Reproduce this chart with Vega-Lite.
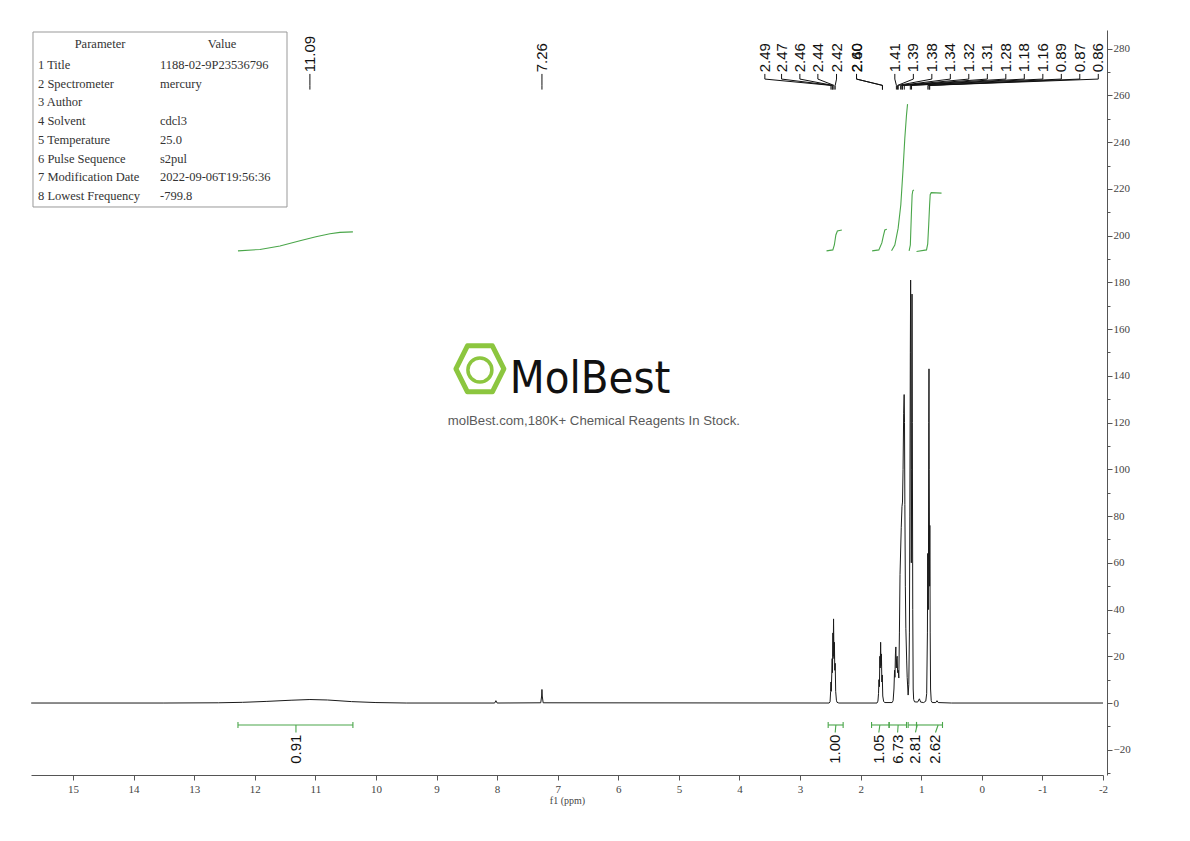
{
  "$schema": "https://vega.github.io/schema/vega-lite/v6.json",
  "width": 1072,
  "height": 745,
  "autosize": {"type": "none"},
  "padding": {"left": 31, "top": 30, "right": 87, "bottom": 66},
  "background": "white",
  "config": {"view": {"stroke": null}, "font": "Liberation Sans"},
  "datasets": {
    "spectrum": [
      {"ppm": 15.69, "i": 0}, {"ppm": 13.5, "i": 0}, {"ppm": 12.6, "i": 0.1}, {"ppm": 12.2, "i": 0.3},
      {"ppm": 11.8, "i": 0.7}, {"ppm": 11.4, "i": 1.2}, {"ppm": 11.09, "i": 1.5}, {"ppm": 10.8, "i": 1.3},
      {"ppm": 10.4, "i": 0.6}, {"ppm": 10.0, "i": 0.2}, {"ppm": 9.5, "i": 0}, {"ppm": 8.04, "i": 0},
      {"ppm": 8.02, "i": 1.0}, {"ppm": 8.0, "i": 0}, {"ppm": 7.28, "i": 0.1}, {"ppm": 7.265, "i": 3},
      {"ppm": 7.26, "i": 5.8}, {"ppm": 7.255, "i": 3}, {"ppm": 7.24, "i": 0.1},
      {"ppm": 2.52, "i": 0}, {"ppm": 2.505, "i": 0.5}, {"ppm": 2.495, "i": 5}, {"ppm": 2.49, "i": 9},
      {"ppm": 2.485, "i": 5}, {"ppm": 2.477, "i": 12}, {"ppm": 2.47, "i": 19}, {"ppm": 2.465, "i": 13},
      {"ppm": 2.458, "i": 30}, {"ppm": 2.453, "i": 20}, {"ppm": 2.447, "i": 36}, {"ppm": 2.44, "i": 19},
      {"ppm": 2.433, "i": 26}, {"ppm": 2.427, "i": 14}, {"ppm": 2.42, "i": 17}, {"ppm": 2.412, "i": 5},
      {"ppm": 2.4, "i": 1.2}, {"ppm": 2.39, "i": 0.3}, {"ppm": 2.36, "i": 0},
      {"ppm": 1.73, "i": 0}, {"ppm": 1.715, "i": 0.8}, {"ppm": 1.705, "i": 4}, {"ppm": 1.698, "i": 10},
      {"ppm": 1.69, "i": 7}, {"ppm": 1.683, "i": 20}, {"ppm": 1.677, "i": 15}, {"ppm": 1.67, "i": 26},
      {"ppm": 1.664, "i": 16}, {"ppm": 1.657, "i": 21}, {"ppm": 1.65, "i": 9}, {"ppm": 1.643, "i": 12},
      {"ppm": 1.635, "i": 3}, {"ppm": 1.62, "i": 0.6}, {"ppm": 1.6, "i": 0.2}, {"ppm": 1.48, "i": 0.2},
      {"ppm": 1.464, "i": 1}, {"ppm": 1.45, "i": 6}, {"ppm": 1.44, "i": 14}, {"ppm": 1.434, "i": 11},
      {"ppm": 1.426, "i": 21}, {"ppm": 1.419, "i": 24}, {"ppm": 1.412, "i": 15}, {"ppm": 1.405, "i": 19},
      {"ppm": 1.397, "i": 20}, {"ppm": 1.39, "i": 13}, {"ppm": 1.38, "i": 14}, {"ppm": 1.37, "i": 10.7},
      {"ppm": 1.36, "i": 30}, {"ppm": 1.35, "i": 55}, {"ppm": 1.33, "i": 75}, {"ppm": 1.318, "i": 84},
      {"ppm": 1.309, "i": 86}, {"ppm": 1.3, "i": 100}, {"ppm": 1.29, "i": 124}, {"ppm": 1.282, "i": 132},
      {"ppm": 1.276, "i": 120}, {"ppm": 1.27, "i": 85}, {"ppm": 1.262, "i": 50}, {"ppm": 1.254, "i": 32},
      {"ppm": 1.24, "i": 18}, {"ppm": 1.232, "i": 11}, {"ppm": 1.216, "i": 3.4}, {"ppm": 1.205, "i": 8},
      {"ppm": 1.195, "i": 30}, {"ppm": 1.188, "i": 80}, {"ppm": 1.18, "i": 150}, {"ppm": 1.175, "i": 181},
      {"ppm": 1.17, "i": 120}, {"ppm": 1.164, "i": 60}, {"ppm": 1.158, "i": 100}, {"ppm": 1.152, "i": 175},
      {"ppm": 1.147, "i": 120}, {"ppm": 1.14, "i": 40}, {"ppm": 1.133, "i": 6}, {"ppm": 1.125, "i": 1.5},
      {"ppm": 1.11, "i": 0.5}, {"ppm": 1.06, "i": 0.4}, {"ppm": 1.03, "i": 1.8}, {"ppm": 1.01, "i": 0.4},
      {"ppm": 0.96, "i": 0.2}, {"ppm": 0.925, "i": 0.8}, {"ppm": 0.91, "i": 4}, {"ppm": 0.898, "i": 30},
      {"ppm": 0.893, "i": 64}, {"ppm": 0.888, "i": 45}, {"ppm": 0.882, "i": 40}, {"ppm": 0.876, "i": 120},
      {"ppm": 0.872, "i": 143}, {"ppm": 0.868, "i": 100}, {"ppm": 0.862, "i": 50}, {"ppm": 0.858, "i": 76},
      {"ppm": 0.852, "i": 30}, {"ppm": 0.846, "i": 6}, {"ppm": 0.835, "i": 1}, {"ppm": 0.82, "i": 0.2},
      {"ppm": 0.76, "i": 0.2}, {"ppm": 0.74, "i": 1.0}, {"ppm": 0.72, "i": 0.2}, {"ppm": 0.5, "i": 0},
      {"ppm": -2, "i": 0}
    ],
    "integrals": [
      {"seg": "A", "ppm": 12.277, "v": 193.5}, {"seg": "A", "ppm": 11.914, "v": 194.1}, {"seg": "A", "ppm": 11.584, "v": 195.6},
      {"seg": "A", "ppm": 11.254, "v": 197.8}, {"seg": "A", "ppm": 10.99, "v": 199.5}, {"seg": "A", "ppm": 10.759, "v": 200.8},
      {"seg": "A", "ppm": 10.594, "v": 201.4}, {"seg": "A", "ppm": 10.38, "v": 201.6},
      {"seg": "B", "ppm": 2.563, "v": 193.5}, {"seg": "B", "ppm": 2.459, "v": 193.9}, {"seg": "B", "ppm": 2.434, "v": 196.0},
      {"seg": "B", "ppm": 2.409, "v": 200.3}, {"seg": "B", "ppm": 2.384, "v": 202.0}, {"seg": "B", "ppm": 2.31, "v": 202.4},
      {"seg": "C", "ppm": 1.81, "v": 193.5}, {"seg": "C", "ppm": 1.7, "v": 193.9}, {"seg": "C", "ppm": 1.65, "v": 196.9},
      {"seg": "C", "ppm": 1.625, "v": 199.9}, {"seg": "C", "ppm": 1.601, "v": 202.4}, {"seg": "C", "ppm": 1.568, "v": 202.7},
      {"seg": "D", "ppm": 1.49, "v": 193.5}, {"seg": "D", "ppm": 1.436, "v": 196.0}, {"seg": "D", "ppm": 1.381, "v": 203.2},
      {"seg": "D", "ppm": 1.337, "v": 213.2}, {"seg": "D", "ppm": 1.299, "v": 228.9}, {"seg": "D", "ppm": 1.271, "v": 241.7},
      {"seg": "D", "ppm": 1.243, "v": 251.7}, {"seg": "D", "ppm": 1.226, "v": 256.3},
      {"seg": "E", "ppm": 1.2, "v": 193.5}, {"seg": "E", "ppm": 1.18, "v": 196.0}, {"seg": "E", "ppm": 1.163, "v": 208.9},
      {"seg": "E", "ppm": 1.15, "v": 217.5}, {"seg": "E", "ppm": 1.139, "v": 219.2}, {"seg": "E", "ppm": 1.122, "v": 219.6},
      {"seg": "F", "ppm": 1.078, "v": 193.2}, {"seg": "F", "ppm": 0.913, "v": 193.9}, {"seg": "F", "ppm": 0.893, "v": 196.5},
      {"seg": "F", "ppm": 0.876, "v": 205.0}, {"seg": "F", "ppm": 0.862, "v": 213.0}, {"seg": "F", "ppm": 0.852, "v": 217.5},
      {"seg": "F", "ppm": 0.835, "v": 218.4}, {"seg": "F", "ppm": 0.665, "v": 218.2}
    ],
    "intlabels": [
      {"t": "0.91", "x1": 12.277, "x2": 10.38, "cx": 11.32, "lx": 11.32},
      {"t": "1.00", "x1": 2.536, "x2": 2.289, "cx": 2.409, "lx": 2.42},
      {"t": "1.05", "x1": 1.82, "x2": 1.53, "cx": 1.683, "lx": 1.7},
      {"t": "6.73", "x1": 1.53, "x2": 1.243, "cx": 1.381, "lx": 1.39},
      {"t": "2.81", "x1": 1.216, "x2": 1.078, "cx": 1.067, "lx": 1.095},
      {"t": "2.62", "x1": 1.078, "x2": 0.649, "cx": 0.721, "lx": 0.765}
    ],
    "peaks": [
      {"t": "11.09", "lx": 11.09, "px": 11.09},
      {"t": "7.26", "lx": 7.26, "px": 7.26},
      {"t": "2.49", "lx": 3.581, "px": 2.49},
      {"t": "2.47", "lx": 3.305, "px": 2.47},
      {"t": "2.46", "lx": 3.003, "px": 2.46},
      {"t": "2.44", "lx": 2.706, "px": 2.44},
      {"t": "2.42", "lx": 2.398, "px": 2.42},
      {"t": "2.40", "lx": 2.068, "px": 1.64},
      {"t": "2.60", "lx": 2.068, "px": 1.64},
      {"t": "1.41", "lx": 1.436, "px": 1.41},
      {"t": "1.39", "lx": 1.13, "px": 1.39},
      {"t": "1.38", "lx": 0.825, "px": 1.38},
      {"t": "1.34", "lx": 0.52, "px": 1.34},
      {"t": "1.32", "lx": 0.215, "px": 1.32},
      {"t": "1.31", "lx": -0.091, "px": 1.31},
      {"t": "1.28", "lx": -0.396, "px": 1.28},
      {"t": "1.18", "lx": -0.701, "px": 1.18},
      {"t": "1.16", "lx": -1.007, "px": 1.16},
      {"t": "0.89", "lx": -1.312, "px": 0.89},
      {"t": "0.87", "lx": -1.617, "px": 0.87},
      {"t": "0.86", "lx": -1.922, "px": 0.86}
    ],
    "table": [
      {"r": 0, "c": 0, "t": "Parameter"}, {"r": 0, "c": 1, "t": "Value"},
      {"r": 1, "c": 0, "t": "1 Title"}, {"r": 1, "c": 1, "t": "1188-02-9P23536796"},
      {"r": 2, "c": 0, "t": "2 Spectrometer"}, {"r": 2, "c": 1, "t": "mercury"},
      {"r": 3, "c": 0, "t": "3 Author"},
      {"r": 4, "c": 0, "t": "4 Solvent"}, {"r": 4, "c": 1, "t": "cdcl3"},
      {"r": 5, "c": 0, "t": "5 Temperature"}, {"r": 5, "c": 1, "t": "25.0"},
      {"r": 6, "c": 0, "t": "6 Pulse Sequence"}, {"r": 6, "c": 1, "t": "s2pul"},
      {"r": 7, "c": 0, "t": "7 Modification Date"}, {"r": 7, "c": 1, "t": "2022-09-06T19:56:36"},
      {"r": 8, "c": 0, "t": "8 Lowest Frequency"}, {"r": 8, "c": 1, "t": "-799.8"}
    ]
  },
  "layer": [
    {
      "resolve": {"axis": {"y": "independent"}},
      "layer": [
        {
          "data": {"name": "spectrum"},
          "mark": {"type": "line", "color": "#1a1a1a", "strokeWidth": 1},
          "encoding": {
            "x": {
              "field": "ppm", "type": "quantitative",
              "scale": {"domain": [-2, 15.693], "reverse": true, "nice": false, "zero": false},
              "axis": {
                "orient": "bottom",
                "values": [-2, -1.5, -1, -0.5, 0, 0.5, 1, 1.5, 2, 2.5, 3, 3.5, 4, 4.5, 5, 5.5, 6, 6.5, 7, 7.5, 8, 8.5, 9, 9.5, 10, 10.5, 11, 11.5, 12, 12.5, 13, 13.5, 14, 14.5, 15, 15.5],
                "labelExpr": "datum.value % 1 === 0 ? toString(datum.value) : ''",
                "tickSize": {"condition": {"test": "datum.value % 1 !== 0", "value": 3}, "value": 5},
                "grid": false,
                "domainColor": "#555", "tickColor": "#555",
                "labelColor": "#444", "labelFont": "Liberation Serif", "labelFontSize": 11, "labelPadding": 3,
                "labelOverlap": false, "labelFlush": false,
                "title": "f1 (ppm)", "titleFont": "Liberation Serif", "titleFontSize": 10, "titleFontWeight": "normal",
                "titleColor": "#444", "titlePadding": 1
              }
            },
            "y": {
              "field": "i", "type": "quantitative",
              "scale": {"domain": [-30.8, 288], "nice": false, "zero": false},
              "axis": {
                "orient": "right", "offset": 4,
                "values": [-20, 0, 20, 40, 60, 80, 100, 120, 140, 160, 180, 200, 220, 240, 260, 280],
                "tickSize": 5,
                "grid": false,
                "domainColor": "#555", "tickColor": "#555",
                "labelColor": "#444", "labelFont": "Liberation Serif", "labelFontSize": 11, "labelPadding": 1,
                "labelOverlap": false, "labelFlush": false,
                "title": null
              }
            }
          }
        },
        {
          "data": {"name": "integrals"},
          "mark": {"type": "line", "color": "#4aa64a", "strokeWidth": 1.1},
          "encoding": {
            "x": {"field": "ppm", "type": "quantitative"},
            "y": {
              "field": "v", "type": "quantitative",
              "axis": {
                "orient": "right", "offset": 4,
                "values": [-30, -10, 10, 30, 50, 70, 90, 110, 130, 150, 170, 190, 210, 230, 250, 270],
                "tickSize": 3, "labels": false, "domain": false, "grid": false,
                "tickColor": "#555", "title": null
              }
            },
            "detail": {"field": "seg"}
          }
        },
        {
          "data": {"name": "intlabels"},
          "mark": {"type": "rule", "color": "#4aa64a", "strokeWidth": 1.1},
          "encoding": {
            "x": {"field": "x1", "type": "quantitative"},
            "x2": {"field": "x2"},
            "y": {"datum": -9.4, "type": "quantitative", "axis": null}
          }
        },
        {
          "data": {"name": "intlabels"},
          "mark": {"type": "rule", "color": "#4aa64a", "strokeWidth": 1.1},
          "encoding": {
            "x": {"field": "x1", "type": "quantitative"},
            "y": {"datum": -8.1, "type": "quantitative", "axis": null},
            "y2": {"datum": -10.7}
          }
        },
        {
          "data": {"name": "intlabels"},
          "mark": {"type": "rule", "color": "#4aa64a", "strokeWidth": 1.1},
          "encoding": {
            "x": {"field": "x2", "type": "quantitative"},
            "y": {"datum": -8.1, "type": "quantitative", "axis": null},
            "y2": {"datum": -10.7}
          }
        },
        {
          "data": {"name": "intlabels"},
          "mark": {"type": "rule", "color": "#4aa64a", "strokeWidth": 1.1},
          "encoding": {
            "x": {"field": "cx", "type": "quantitative"},
            "x2": {"field": "lx"},
            "y": {"datum": -9.4, "type": "quantitative", "axis": null},
            "y2": {"datum": -12.6}
          }
        },
        {
          "data": {"name": "intlabels"},
          "mark": {"type": "text", "angle": 270, "align": "right", "baseline": "middle", "fontSize": 15, "color": "#111", "font": "Liberation Sans"},
          "encoding": {
            "x": {"field": "lx", "type": "quantitative"},
            "y": {"datum": -13.5, "type": "quantitative", "axis": null},
            "text": {"field": "t"}
          }
        },
        {
          "data": {"name": "peaks"},
          "mark": {"type": "text", "angle": 270, "align": "left", "baseline": "middle", "fontSize": 15, "color": "#111", "font": "Liberation Sans"},
          "encoding": {
            "x": {"field": "lx", "type": "quantitative"},
            "y": {"datum": 269.9, "type": "quantitative", "axis": null},
            "text": {"field": "t"}
          }
        },
        {
          "data": {"name": "peaks"},
          "mark": {"type": "rule", "color": "#111", "strokeWidth": 1},
          "encoding": {
            "x": {"field": "lx", "type": "quantitative"},
            "y": {"datum": 269.2, "type": "quantitative", "axis": null},
            "y2": {"datum": 267.0}
          }
        },
        {
          "data": {"name": "peaks"},
          "mark": {"type": "rule", "color": "#111", "strokeWidth": 1},
          "encoding": {
            "x": {"field": "lx", "type": "quantitative"},
            "x2": {"field": "px"},
            "y": {"datum": 267.0, "type": "quantitative", "axis": null},
            "y2": {"datum": 264.3}
          }
        },
        {
          "data": {"name": "peaks"},
          "mark": {"type": "rule", "color": "#111", "strokeWidth": 1},
          "encoding": {
            "x": {"field": "px", "type": "quantitative"},
            "y": {"datum": 264.3, "type": "quantitative", "axis": null},
            "y2": {"datum": 262.5}
          }
        },
        {
          "data": {"values": [{}]},
          "mark": {"type": "point", "shape": "M-1,0L-0.52,-0.96L0.52,-0.96L1,0L0.52,0.96L-0.52,0.96Z", "size": 2300, "filled": false, "stroke": "#8cc63f", "strokeWidth": 5, "strokeJoin": "round", "opacity": 1},
          "encoding": {
            "x": {"datum": 8.284, "type": "quantitative"},
            "y": {"datum": 143.0, "type": "quantitative", "axis": null}
          }
        },
        {
          "data": {"values": [{}]},
          "mark": {"type": "point", "shape": "circle", "size": 576, "filled": false, "stroke": "#8cc63f", "strokeWidth": 3.5, "opacity": 1},
          "encoding": {
            "x": {"datum": 8.284, "type": "quantitative"},
            "y": {"datum": 142.5, "type": "quantitative", "axis": null}
          }
        },
        {
          "data": {"values": [{}]},
          "mark": {"type": "text", "align": "left", "baseline": "alphabetic", "fontSize": 45, "font": "Liberation Sans Narrow, DejaVu Sans Condensed, Roboto", "color": "#111"},
          "encoding": {
            "x": {"datum": 7.79, "type": "quantitative"},
            "y": {"datum": 132.7, "type": "quantitative", "axis": null},
            "text": {"value": "MolBest"}
          }
        },
        {
          "data": {"values": [{}]},
          "mark": {"type": "text", "align": "center", "baseline": "middle", "fontSize": 13.2, "font": "Liberation Sans", "color": "#5a5a5a"},
          "encoding": {
            "x": {"datum": 6.403, "type": "quantitative"},
            "y": {"datum": 120.7, "type": "quantitative", "axis": null},
            "text": {"value": "molBest.com,180K+ Chemical Reagents In Stock."}
          }
        }
      ]
    },
    {
      "layer": [
        {
          "data": {"values": [{}]},
          "mark": {"type": "rect", "fill": null, "stroke": "#999", "strokeWidth": 1, "filled": false},
          "encoding": {
            "x": {"datum": -0.041, "type": "quantitative", "scale": {"domain": [-0.05738, 8.7295], "nice": false, "zero": false}, "axis": null},
            "x2": {"datum": 2.041},
            "y": {"datum": -0.764, "type": "quantitative", "scale": {"domain": [-0.871, 38.95], "reverse": true, "nice": false, "zero": false}, "axis": null},
            "y2": {"datum": 8.589}
          }
        },
        {
          "data": {"name": "table"},
          "transform": [{"filter": "datum.r > 0"}],
          "mark": {"type": "text", "align": "left", "baseline": "middle", "fontSize": 12.5, "font": "Liberation Serif", "color": "#333"},
          "encoding": {
            "x": {"field": "c", "type": "quantitative"},
            "y": {"field": "r", "type": "quantitative"},
            "text": {"field": "t"}
          }
        },
        {
          "data": {"name": "table"},
          "transform": [{"filter": "datum.r === 0"}],
          "mark": {"type": "text", "align": "center", "baseline": "middle", "fontSize": 12.5, "font": "Liberation Serif", "color": "#333", "dx": 62, "dy": -2},
          "encoding": {
            "x": {"field": "c", "type": "quantitative"},
            "y": {"field": "r", "type": "quantitative"},
            "text": {"field": "t"}
          }
        }
      ]
    }
  ],
  "resolve": {"scale": {"x": "independent", "y": "independent"}, "axis": {"x": "independent", "y": "independent"}}
}
